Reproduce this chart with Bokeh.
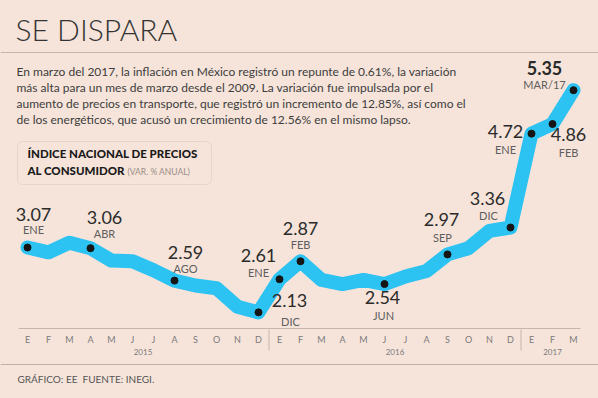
from bokeh.plotting import figure
from bokeh.models import ColumnDataSource, BoxAnnotation
from bokeh.core.properties import value
from bokeh.embed import file_html
from bokeh.resources import INLINE

# ---------------- data ----------------
MONTHS = ["E", "F", "M", "A", "M", "J", "J", "A", "S", "O", "N", "D",
          "E", "F", "M", "A", "M", "J", "J", "A", "S", "O", "N", "D",
          "E", "F", "M"]
YEARS = ["2015", "2016", "2017"]
YEAR_MONTHS = [12, 12, 3]
INFLATION = [3.07, 3.00, 3.14, 3.06, 2.88, 2.87, 2.74, 2.59, 2.52, 2.48, 2.21, 2.13,
             2.61, 2.87, 2.60, 2.54, 2.60, 2.54, 2.65, 2.73, 2.97, 3.06, 3.31, 3.36,
             4.72, 4.86, 5.35]
# annotated points: month index, month label
ANN_IDX = [0, 3, 7, 11, 12, 13, 17, 20, 23, 24, 25, 26]
ANN_SUB = ["ENE", "ABR", "AGO", "DIC", "ENE", "FEB", "JUN", "SEP", "DIC", "ENE", "FEB", "MAR/17"]

TITLE = "SE DISPARA"
PARAGRAPH = [
    "En marzo del 2017, la inflación en México registró un repunte de 0.61%, la variación",
    "más alta para un mes de marzo desde el 2009. La variación fue impulsada por el",
    "aumento de precios en transporte, que registró un incremento de 12.85%, así como el",
    "de los energéticos, que acusó un crecimiento de 12.56% en el mismo lapso.",
]
BOX_LINE1 = "ÍNDICE NACIONAL DE PRECIOS"
BOX_LINE2 = "AL CONSUMIDOR"
BOX_UNIT = "(VAR. % ANUAL)"
FOOTER = "GRÁFICO: EE\u00a0 FUENTE: INEGI."

# ---------------- layout ----------------
W, H = 598, 398
BG = "#f6e4da"
LINE_C = "#2cc2f2"
DARK = "#2b2b2b"
GREY = "#5e5e5e"
FONT = "Lato"
FONT_LIGHT = "'Lato Light', Lato"
FONT_HEAVY = "'Lato Black', 'Lato Heavy', Lato"
K = 0.45        # baseline correction (fraction of font size)

PXM = 21.0      # px per month
X0 = 27.0       # canvas px of first month
PXV = 69.0      # px per unit of inflation
YREF_V, YREF_PX = 3.07, 247.0

x_start = -X0 / PXM
x_end = (W - X0) / PXM
y_end = YREF_V + YREF_PX / PXV
y_start = YREF_V - (H - YREF_PX) / PXV


def dx(page_x):
    return (page_x - X0) / PXM


def dy(page_y):
    return YREF_V - (page_y - YREF_PX) / PXV


def by(page_baseline, fs):
    return dy(page_baseline - K * fs)


p = figure(width=W, height=H, x_range=(x_start, x_end), y_range=(y_start, y_end),
           output_backend="svg", toolbar_location=None, min_border=0,
           background_fill_color=BG, border_fill_color=BG, outline_line_color=None)
p.xaxis.visible = False
p.yaxis.visible = False
p.grid.visible = False

# title + rule
p.text(x=[dx(15)], y=[by(42, 30)], text=[TITLE], text_font=value(FONT_LIGHT), text_font_size="30px",
       text_color="#333333", text_baseline="alphabetic", text_align="left")
p.segment(x0=[x_start], x1=[x_end], y0=[dy(52)], y1=[dy(52)], line_color="#c9b6aa", line_width=1)

# paragraph
for i, line in enumerate(PARAGRAPH):
    p.text(x=[dx(16)], y=[by(76 + 16 * i, 12)], text=[line], text_font=value(FONT),
           text_font_size="12px", text_color="#3d3d3d", text_baseline="alphabetic")

# box
p.add_layout(BoxAnnotation(left=dx(17), right=dx(211), top=dy(141), bottom=dy(184),
                           fill_color=None, line_color="#c6b2a6", line_width=1, border_radius=5))
p.text(x=[dx(27)], y=[by(158, 11.5)], text=[BOX_LINE1], text_font=value(FONT_HEAVY), text_font_size="11.5px",
       text_font_style="bold", text_color="#1a1a1a", text_baseline="alphabetic")
p.text(x=[dx(27)], y=[by(175, 11.5)], text=[BOX_LINE2], text_font=value(FONT_HEAVY), text_font_size="11.5px",
       text_font_style="bold", text_color="#1a1a1a", text_baseline="alphabetic")
p.text(x=[dx(127)], y=[by(175, 8.5)], text=[BOX_UNIT], text_font=value(FONT), text_font_size="8.5px",
       text_color="#9a8d86", text_baseline="alphabetic")

# series
xs = list(range(len(INFLATION)))
p.line(xs, INFLATION, line_color=LINE_C, line_width=14, line_join="round", line_cap="round")

ann_x = [ANN_IDX[i] for i in range(len(ANN_IDX))]
ann_y = [INFLATION[i] for i in ANN_IDX]
ann_num = [f"{INFLATION[i]:.2f}" for i in ANN_IDX]
p.scatter(ann_x, ann_y, size=7, color="#151515")

# label offsets (screen px, baseline) relative to each point: number, then month
NUM_FS, SUB_FS = 18, 11
NUM_OFF = [(6, -25), (14, -23), (11, -20), (31, -4), (-21, -16), (0, -25),
           (-2, 22), (-6, -27), (-23, -21), (-26, 6), (16, 19), (-29, -14)]
SUB_OFF = [(6, -13), (14, -10), (11, -7), (32, 14), (-21, -2), (0, -12),
           (-1, 36), (-5, -12), (-22, -7), (-26, 21), (16, 33), (-29, -1)]

num_src = ColumnDataSource(dict(x=ann_x[:-1], y=ann_y[:-1], t=ann_num[:-1],
                                xo=[o[0] for o in NUM_OFF[:-1]],
                                yo=[o[1] - K * NUM_FS for o in NUM_OFF[:-1]]))
p.text(x="x", y="y", text="t", x_offset="xo", y_offset="yo", source=num_src,
       text_font=value(FONT), text_font_size=f"{NUM_FS}px", text_color=DARK,
       text_align="center", text_baseline="alphabetic")
p.text(x=[ann_x[-1]], y=[ann_y[-1]], text=[ann_num[-1]], x_offset=NUM_OFF[-1][0],
       y_offset=NUM_OFF[-1][1] - K * NUM_FS,
       text_font=value(FONT), text_font_size=f"{NUM_FS}px", text_font_style="bold", text_color=DARK,
       text_align="center", text_baseline="alphabetic")
sub_src = ColumnDataSource(dict(x=ann_x, y=ann_y, t=ANN_SUB,
                                xo=[o[0] for o in SUB_OFF], yo=[o[1] - K * SUB_FS for o in SUB_OFF]))
p.text(x="x", y="y", text="t", x_offset="xo", y_offset="yo", source=sub_src,
       text_font=value(FONT), text_font_size=f"{SUB_FS}px", text_color=GREY,
       text_align="center", text_baseline="alphabetic")

# month axis
p.segment(x0=[dx(18)], x1=[dx(580)], y0=[dy(328)], y1=[dy(328)], line_color="#c9b6aa", line_width=1)
p.text(x=xs, y=[by(343, 9)] * len(xs), text=MONTHS, text_font=value(FONT), text_font_size="9px",
       text_color="#7a7a7a", text_align="center", text_baseline="alphabetic")
starts = [sum(YEAR_MONTHS[:k]) for k in range(len(YEAR_MONTHS))]
year_x = [s + (n - 1) / 2 for s, n in zip(starts, YEAR_MONTHS)]
p.text(x=year_x, y=[by(355, 8)] * len(YEARS), text=YEARS, text_font=value(FONT), text_font_size="8px",
       text_color="#7a7a7a", text_align="center", text_baseline="alphabetic")
sep_x = [s - 0.5 for s in starts[1:]]
p.segment(x0=sep_x, x1=sep_x, y0=[dy(329)] * len(sep_x), y1=[dy(350)] * len(sep_x),
          line_color="#c9b6aa", line_width=1)

# bottom rule + footer
p.segment(x0=[x_start], x1=[x_end], y0=[dy(364)], y1=[dy(364)], line_color="#bfaea3", line_width=1)
p.text(x=[dx(17)], y=[by(383, 10)], text=[FOOTER], text_font=value(FONT), text_font_size="10px",
       text_color="#555555", text_baseline="alphabetic")

html = file_html(p, INLINE)
html = html.replace("<head>", "<head><style>html,body{margin:0;padding:0;background:%s;}</style>" % BG, 1)
open("out.html", "w").write(html)
